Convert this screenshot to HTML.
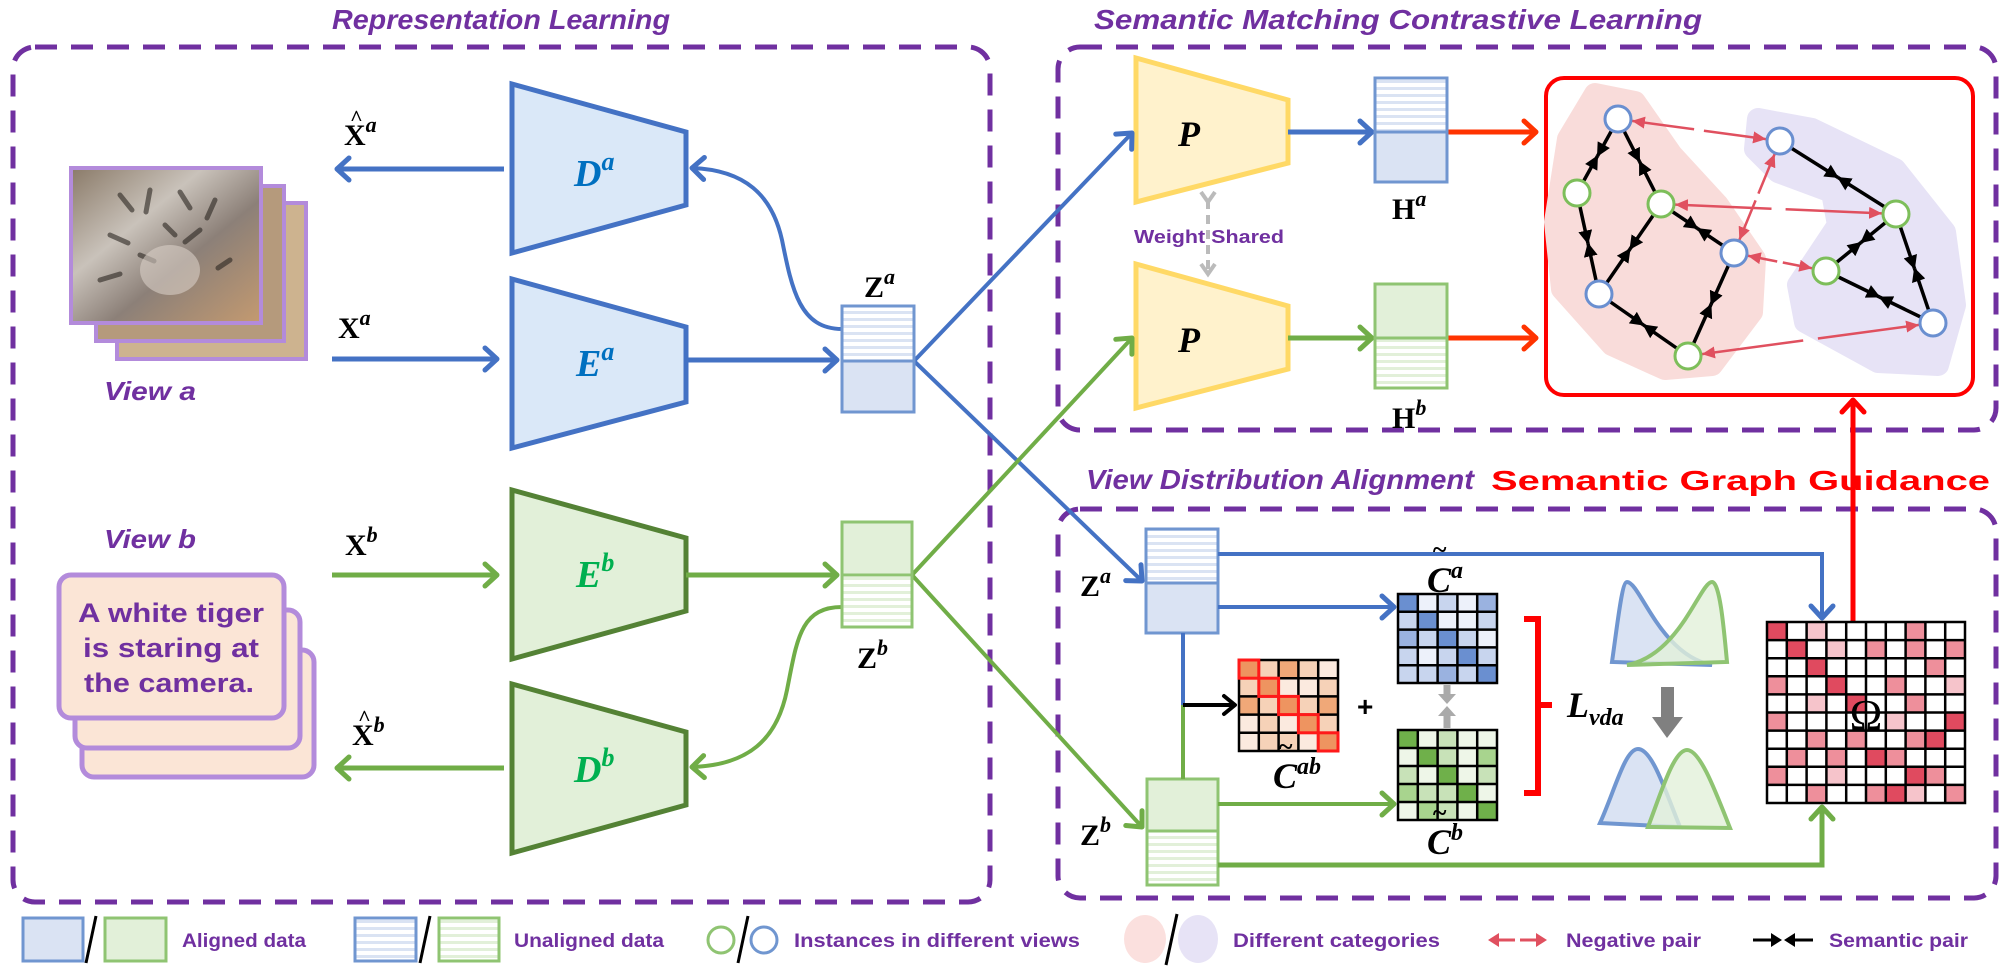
<!DOCTYPE html>
<html><head><meta charset="utf-8"><style>html,body{margin:0;padding:0;background:#fff}svg{display:block}</style></head>
<body>
<svg width="2000" height="969" viewBox="0 0 2000 969" xmlns="http://www.w3.org/2000/svg">
<defs>
<pattern id="stB" width="10" height="7" patternUnits="userSpaceOnUse"><rect width="10" height="7" fill="#fff"/><rect y="3" width="10" height="3" fill="#dae3f3"/></pattern>
<pattern id="stG" width="10" height="7" patternUnits="userSpaceOnUse"><rect width="10" height="7" fill="#fff"/><rect y="3" width="10" height="3" fill="#e2f0d9"/></pattern>
<linearGradient id="tig" x1="0" y1="0" x2="1" y2="1"><stop offset="0" stop-color="#8a7a68"/><stop offset="0.35" stop-color="#c9c2ba"/><stop offset="0.6" stop-color="#8c8078"/><stop offset="1" stop-color="#c49a70"/></linearGradient>
<marker id="mB" markerUnits="userSpaceOnUse" markerWidth="24" markerHeight="28" refX="17" refY="14" orient="auto"><path d="M5,3 L17,14 L5,25" fill="none" stroke="#4472C4" stroke-width="5" stroke-linecap="round" stroke-linejoin="round"/></marker>
<marker id="mG" markerUnits="userSpaceOnUse" markerWidth="24" markerHeight="28" refX="17" refY="14" orient="auto"><path d="M5,3 L17,14 L5,25" fill="none" stroke="#70AD47" stroke-width="5" stroke-linecap="round" stroke-linejoin="round"/></marker>
<marker id="mR" markerUnits="userSpaceOnUse" markerWidth="24" markerHeight="28" refX="17" refY="14" orient="auto"><path d="M5,3 L17,14 L5,25" fill="none" stroke="#FF3300" stroke-width="5" stroke-linecap="round" stroke-linejoin="round"/></marker>
<marker id="mRR" markerUnits="userSpaceOnUse" markerWidth="24" markerHeight="28" refX="17" refY="14" orient="auto"><path d="M5,3 L17,14 L5,25" fill="none" stroke="#FF0000" stroke-width="5" stroke-linecap="round" stroke-linejoin="round"/></marker>
<marker id="mK" markerUnits="userSpaceOnUse" markerWidth="20" markerHeight="24" refX="15" refY="12" orient="auto"><path d="M4,3 L15,12 L4,21" fill="none" stroke="#000" stroke-width="4" stroke-linecap="round" stroke-linejoin="round"/></marker>
<marker id="mGr" markerUnits="userSpaceOnUse" markerWidth="20" markerHeight="20" refX="10" refY="10" orient="auto"><path d="M2,3 L12,10 L2,17" fill="none" stroke="#bbb" stroke-width="4"/></marker>
<marker id="tK" markerUnits="userSpaceOnUse" markerWidth="16" markerHeight="14" refX="13" refY="7" orient="auto"><path d="M0,0 L14,7 L0,14 z" fill="#000"/></marker>
<marker id="tR" markerUnits="userSpaceOnUse" markerWidth="30" markerHeight="14" refX="27" refY="6" orient="auto"><path d="M0,0 L13,6 L0,12 z" fill="#E0505F"/></marker>
</defs>

<g font-family="Liberation Sans, sans-serif" font-style="italic" font-weight="bold" fill="#7030A0" font-size="28">
<text x="332" y="29" textLength="338" lengthAdjust="spacingAndGlyphs">Representation Learning</text>
<text x="1094" y="29" textLength="608" lengthAdjust="spacingAndGlyphs">Semantic Matching Contrastive Learning</text>
<text x="1086" y="489" textLength="388" lengthAdjust="spacingAndGlyphs">View Distribution Alignment</text>
</g>
<text x="1491" y="490" font-family="Liberation Sans, sans-serif" font-weight="bold" fill="#FF0000" font-size="28" textLength="499" lengthAdjust="spacingAndGlyphs">Semantic Graph Guidance</text>

<g fill="none" stroke="#7030A0" stroke-width="5" stroke-dasharray="22 14">
<rect x="13" y="47" width="977" height="855" rx="22"/>
<rect x="1058" y="47" width="938" height="383" rx="22"/>
<rect x="1058" y="509" width="938" height="389" rx="22"/>
</g>

<g stroke="#B38BDB" stroke-width="4">
<rect x="117" y="203" width="189" height="156" fill="#cdb38f"/>
<rect x="96" y="186" width="188" height="155" fill="#b59a7c"/>
<rect x="71" y="168" width="190" height="155" fill="url(#tig)"/>
</g>
<g stroke="#2a2520" stroke-width="5" opacity="0.6" fill="none" stroke-linecap="round"><path d="M120,195 l12,15 M150,190 l-4,22 M180,192 l10,16 M110,235 l18,8 M200,230 l-15,12 M140,255 l14,6 M165,225 l10,10 M215,200 l-8,18 M100,280 l20,-6 M230,260 l-12,8"/></g>
<ellipse cx="170" cy="270" rx="30" ry="25" fill="#d8cfc6" opacity="0.6"/>
<text x="104" y="400" font-family="Liberation Sans, sans-serif" font-weight="bold" font-style="italic" fill="#7030A0" font-size="26" textLength="92" lengthAdjust="spacingAndGlyphs">View a</text>

<g stroke="#B38BDB" stroke-width="5" fill="#FBE5D6">
<rect x="82" y="650" width="232" height="127" rx="12"/>
<rect x="75" y="610" width="225" height="138" rx="12"/>
<rect x="59" y="575" width="225" height="143" rx="12"/>
</g>
<g font-family="Liberation Sans, sans-serif" font-weight="bold" fill="#7030A0" font-size="27" text-anchor="middle">
<text x="171" y="622" textLength="186" lengthAdjust="spacingAndGlyphs">A white tiger</text>
<text x="171" y="657" textLength="176" lengthAdjust="spacingAndGlyphs">is staring at</text>
<text x="169" y="692" textLength="170" lengthAdjust="spacingAndGlyphs">the camera.</text>
</g>
<text x="104" y="548" font-family="Liberation Sans, sans-serif" font-weight="bold" font-style="italic" fill="#7030A0" font-size="26" textLength="92" lengthAdjust="spacingAndGlyphs">View b</text>

<g stroke-width="5" stroke-linejoin="miter">
<polygon points="512,84 686,132 686,205 512,253" fill="#DAE8F8" stroke="#4472C4"/>
<polygon points="512,279 686,327 686,402 512,448" fill="#DAE8F8" stroke="#4472C4"/>
<polygon points="512,490 686,538 686,611 512,659" fill="#E2F0D9" stroke="#548235"/>
<polygon points="512,684 686,732 686,805 512,853" fill="#E2F0D9" stroke="#548235"/>
<polygon points="1136,58 1288,100 1288,163 1136,202" fill="#FFF2CC" stroke="#FFD966"/>
<polygon points="1136,264 1288,306 1288,369 1136,408" fill="#FFF2CC" stroke="#FFD966"/>
</g>
<g font-family="Liberation Serif, serif" font-style="italic" font-weight="bold" font-size="38">
<text x="574" y="186" fill="#0070C0">D<tspan font-size="26" dy="-16">a</tspan></text>
<text x="576" y="376" fill="#0070C0">E<tspan font-size="26" dy="-16">a</tspan></text>
<text x="576" y="587" fill="#00B050">E<tspan font-size="26" dy="-16">b</tspan></text>
<text x="574" y="782" fill="#00B050">D<tspan font-size="26" dy="-16">b</tspan></text>
<text x="1178" y="146" fill="#000" font-size="36">P</text>
<text x="1178" y="352" fill="#000" font-size="36">P</text>
</g>

<g font-family="Liberation Serif, serif" font-weight="bold" font-size="30" fill="#000">
<text x="344" y="145">X<tspan font-size="22" font-style="italic" dy="-13">a</tspan></text>
<text x="350" y="125" font-size="22">^</text>
<text x="338" y="338">X<tspan font-size="22" font-style="italic" dy="-13">a</tspan></text>
<text x="345" y="555">X<tspan font-size="22" font-style="italic" dy="-13">b</tspan></text>
<text x="352" y="745">X<tspan font-size="22" font-style="italic" dy="-13">b</tspan></text>
<text x="358" y="725" font-size="22">^</text>
<text x="864" y="297">Z<tspan font-size="22" font-style="italic" dy="-13">a</tspan></text>
<text x="857" y="668">Z<tspan font-size="22" font-style="italic" dy="-13">b</tspan></text>
<text x="1392" y="219">H<tspan font-size="22" font-style="italic" dy="-13">a</tspan></text>
<text x="1392" y="428">H<tspan font-size="22" font-style="italic" dy="-13">b</tspan></text>
<text x="1080" y="596">Z<tspan font-size="22" font-style="italic" dy="-13">a</tspan></text>
<text x="1080" y="845">Z<tspan font-size="22" font-style="italic" dy="-13">b</tspan></text>
</g>

<g fill="none" stroke-width="5">
<line x1="504" y1="169" x2="337" y2="169" stroke="#4472C4" marker-end="url(#mB)"/>
<line x1="332" y1="359" x2="497" y2="359" stroke="#4472C4" marker-end="url(#mB)"/>
<line x1="686" y1="360" x2="837" y2="360" stroke="#4472C4" marker-end="url(#mB)"/>
<path d="M842,329 C800,329 792,290 782,240 C772,195 745,170 692,168" stroke="#4472C4" stroke-width="4" marker-end="url(#mB)"/>
<line x1="332" y1="575" x2="497" y2="575" stroke="#70AD47" marker-end="url(#mG)"/>
<line x1="686" y1="575" x2="837" y2="575" stroke="#70AD47" marker-end="url(#mG)"/>
<line x1="504" y1="768" x2="337" y2="768" stroke="#70AD47" marker-end="url(#mG)"/>
<path d="M842,607 C800,607 797,640 787,690 C777,740 748,765 692,767" stroke="#70AD47" stroke-width="4" marker-end="url(#mG)"/>
<line x1="914" y1="361" x2="1132" y2="133" stroke="#4472C4" stroke-width="4" marker-end="url(#mB)"/>
<line x1="914" y1="361" x2="1142" y2="581" stroke="#4472C4" stroke-width="4" marker-end="url(#mB)"/>
<line x1="912" y1="575" x2="1132" y2="338" stroke="#70AD47" stroke-width="4" marker-end="url(#mG)"/>
<line x1="912" y1="575" x2="1142" y2="827" stroke="#70AD47" stroke-width="4" marker-end="url(#mG)"/>
<line x1="1288" y1="132" x2="1372" y2="132" stroke="#4472C4" marker-end="url(#mB)"/>
<line x1="1288" y1="338" x2="1372" y2="338" stroke="#70AD47" marker-end="url(#mG)"/>
<line x1="1447" y1="132" x2="1536" y2="132" stroke="#FF3300" marker-end="url(#mR)"/>
<line x1="1447" y1="338" x2="1536" y2="338" stroke="#FF3300" marker-end="url(#mR)"/>
<line x1="1208" y1="200" x2="1208" y2="272" stroke="#bbb" stroke-width="4" stroke-dasharray="9 6" marker-end="url(#mGr)" marker-start="url(#mGr)"/>
</g>
<text x="1134" y="243" font-family="Liberation Sans, sans-serif" font-weight="bold" fill="#7030A0" font-size="18" textLength="150" lengthAdjust="spacingAndGlyphs">Weight Shared</text>

<g stroke-width="3">
<rect x="842" y="306" width="72" height="55" fill="url(#stB)" stroke="#7096D0"/>
<rect x="842" y="361" width="72" height="51" fill="#DAE3F3" stroke="#7096D0"/>
<rect x="842" y="522" width="70" height="53" fill="#E2F0D9" stroke="#8FC472"/>
<rect x="842" y="575" width="70" height="52" fill="url(#stG)" stroke="#8FC472"/>
<rect x="1375" y="78" width="72" height="54" fill="url(#stB)" stroke="#7096D0"/>
<rect x="1375" y="132" width="72" height="50" fill="#DAE3F3" stroke="#7096D0"/>
<rect x="1375" y="284" width="72" height="54" fill="#E2F0D9" stroke="#8FC472"/>
<rect x="1375" y="338" width="72" height="50" fill="url(#stG)" stroke="#8FC472"/>
<rect x="1146" y="529" width="72" height="54" fill="url(#stB)" stroke="#7096D0"/>
<rect x="1146" y="583" width="72" height="50" fill="#DAE3F3" stroke="#7096D0"/>
<rect x="1147" y="779" width="71" height="52" fill="#E2F0D9" stroke="#8FC472"/>
<rect x="1147" y="831" width="71" height="54" fill="url(#stG)" stroke="#8FC472"/>
</g>

<g fill="none" stroke-width="4">
<polyline points="1218,554 1822,554 1822,618" stroke="#4472C4" marker-end="url(#mB)"/>
<line x1="1218" y1="607" x2="1394" y2="607" stroke="#4472C4" marker-end="url(#mB)"/>
<line x1="1183" y1="633" x2="1183" y2="705" stroke="#4472C4"/>
<line x1="1183" y1="705" x2="1183" y2="779" stroke="#70AD47"/>
<line x1="1183" y1="705" x2="1235" y2="705" stroke="#000" marker-end="url(#mK)"/>
<line x1="1218" y1="804" x2="1394" y2="804" stroke="#70AD47" marker-end="url(#mG)"/>
<polyline points="1218,865 1822,865 1822,807" stroke="#70AD47" stroke-width="5" marker-end="url(#mG)"/>
<line x1="1853" y1="622" x2="1853" y2="400" stroke="#FF0000" stroke-width="5" marker-end="url(#mRR)"/>
<path d="M1524,619 L1538,619 L1538,793 L1524,793 M1538,705 L1552,705" stroke="#FF0000" stroke-width="6"/>
</g>
<text x="1357" y="716" font-family="Liberation Sans, sans-serif" font-weight="bold" font-size="28">+</text>
<g stroke="#aaa" stroke-width="7"><line x1="1447" y1="685" x2="1447" y2="697"/><line x1="1447" y1="712" x2="1447" y2="728"/></g>
<path d="M1438,694 L1456,694 L1447,704 z M1438,716 L1456,716 L1447,706 z" fill="#aaa"/>

<g>
<rect x="1398" y="594" width="99" height="89" fill="#c8d5ee"/>
<g fill="#6a8fd0"><rect x="1398" y="594" width="19.8" height="17.8"/><rect x="1417.8" y="611.8" width="19.8" height="17.8"/><rect x="1437.6" y="629.6" width="19.8" height="17.8"/><rect x="1457.4" y="647.4" width="19.8" height="17.8"/><rect x="1477.2" y="665.2" width="19.8" height="17.8"/></g>
<g fill="#edf1fa"><rect x="1417.8" y="594" width="19.8" height="17.8"/><rect x="1457.4" y="594" width="19.8" height="17.8"/><rect x="1457.4" y="611.8" width="19.8" height="17.8"/><rect x="1477.2" y="629.6" width="19.8" height="17.8"/><rect x="1417.8" y="647.4" width="19.8" height="17.8"/><rect x="1437.6" y="611.8" width="19.8" height="17.8"/></g>
<g fill="#9ab2e0"><rect x="1477.2" y="594" width="19.8" height="17.8"/><rect x="1398" y="629.6" width="19.8" height="17.8"/><rect x="1437.6" y="665.2" width="19.8" height="17.8"/></g>
<path d="M1398,594h99v89h-99z M1417.8,594v89 M1437.6,594v89 M1457.4,594v89 M1477.2,594v89 M1398,611.8h99 M1398,629.6h99 M1398,647.4h99 M1398,665.2h99" fill="none" stroke="#000" stroke-width="2.5"/>
</g>
<g>
<rect x="1398" y="730" width="99" height="90" fill="#c8e2b8"/>
<g fill="#6fb04a"><rect x="1398" y="730" width="19.8" height="18"/><rect x="1417.8" y="748" width="19.8" height="18"/><rect x="1437.6" y="766" width="19.8" height="18"/><rect x="1457.4" y="784" width="19.8" height="18"/><rect x="1477.2" y="802" width="19.8" height="18"/></g>
<g fill="#eef6e8"><rect x="1417.8" y="730" width="19.8" height="18"/><rect x="1457.4" y="730" width="19.8" height="18"/><rect x="1477.2" y="730" width="19.8" height="18"/><rect x="1398" y="748" width="19.8" height="18"/><rect x="1457.4" y="748" width="19.8" height="18"/><rect x="1417.8" y="766" width="19.8" height="18"/><rect x="1457.4" y="766" width="19.8" height="18"/><rect x="1477.2" y="784" width="19.8" height="18"/><rect x="1457.4" y="802" width="19.8" height="18"/><rect x="1398" y="802" width="19.8" height="18"/></g>
<g fill="#a8d48e"><rect x="1477.2" y="748" width="19.8" height="18"/><rect x="1398" y="784" width="19.8" height="18"/><rect x="1417.8" y="802" width="19.8" height="18"/></g>
<path d="M1398,730h99v90h-99z M1417.8,730v90 M1437.6,730v90 M1457.4,730v90 M1477.2,730v90 M1398,748h99 M1398,766h99 M1398,784h99 M1398,802h99" fill="none" stroke="#000" stroke-width="2.5"/>
</g>
<g>
<rect x="1239" y="660" width="99" height="91" fill="#f6d2b8"/>
<g fill="#fbeadf"><rect x="1317.2" y="660" width="19.8" height="18.2"/><rect x="1278.6" y="678.2" width="19.8" height="18.2"/><rect x="1298.4" y="678.2" width="19.8" height="18.2"/><rect x="1239" y="714.6" width="19.8" height="18.2"/><rect x="1278.6" y="714.6" width="19.8" height="18.2"/><rect x="1298.4" y="732.8" width="19.8" height="18.2"/><rect x="1239" y="732.8" width="19.8" height="18.2"/></g>
<g fill="#f0a878"><rect x="1278.6" y="660" width="19.8" height="18.2"/><rect x="1239" y="696.4" width="19.8" height="18.2"/><rect x="1317.2" y="696.4" width="19.8" height="18.2"/></g>
<path d="M1239,660h99v91h-99z M1258.8,660v91 M1278.6,660v91 M1298.4,660v91 M1318.2,660v91 M1239,678.2h99 M1239,696.4h99 M1239,714.6h99 M1239,732.8h99" fill="none" stroke="#000" stroke-width="2.5"/>
<g fill="#ee9460" stroke="#ff1a1a" stroke-width="3"><rect x="1239" y="660" width="19.8" height="18.2"/><rect x="1258.8" y="678.2" width="19.8" height="18.2"/><rect x="1278.6" y="696.4" width="19.8" height="18.2"/><rect x="1298.4" y="714.6" width="19.8" height="18.2"/><rect x="1318.2" y="732.8" width="19.8" height="18.2"/></g>
</g>
<g font-family="Liberation Serif, serif" font-style="italic" font-weight="bold" font-size="36" fill="#000">
<text x="1427" y="592">C<tspan font-size="24" dy="-14">a</tspan></text><text x="1432" y="558" font-size="26">~</text>
<text x="1273" y="788">C<tspan font-size="24" dy="-14">ab</tspan></text><text x="1278" y="755" font-size="26">~</text>
<text x="1427" y="854">C<tspan font-size="24" dy="-14">b</tspan></text><text x="1432" y="821" font-size="26">~</text>
<text x="1567" y="717">L<tspan font-size="24" dy="8">vda</tspan></text>
<text x="1862" y="120">L<tspan font-size="26" dy="8">smc</tspan></text>
</g>

<g stroke-width="4">
<path d="M1612,662 C1618,620 1622,582 1627,582 C1640,582 1660,655 1712,665 Z" fill="#DAE3F3" stroke="#7096D0"/>
<path d="M1627,665 C1680,655 1700,582 1712,582 C1720,582 1724,630 1727,662 Z" fill="#E2F0D9" fill-opacity="0.8" stroke="#8FC472"/>
<path d="M1600,823 C1615,790 1625,749 1638,749 C1652,749 1665,790 1680,827 Z" fill="#DAE3F3" stroke="#7096D0"/>
<path d="M1648,827 C1662,790 1674,750 1687,750 C1700,750 1715,790 1730,828 Z" fill="#E2F0D9" fill-opacity="0.8" stroke="#8FC472"/>
</g>
<rect x="1661" y="687" width="13" height="32" fill="#808080"/><path d="M1652,717 L1683,717 L1667,738 z" fill="#808080"/>

<g>
<rect x="1767" y="622" width="198" height="181" fill="#fff"/>
<g fill="#e04a5f">
<rect x="1767" y="622" width="19.8" height="18.1"/><rect x="1786.8" y="640.1" width="19.8" height="18.1"/><rect x="1806.6" y="658.2" width="19.8" height="18.1"/><rect x="1826.4" y="676.3" width="19.8" height="18.1"/><rect x="1846.2" y="694.4" width="19.8" height="18.1"/><rect x="1945.2" y="712.5" width="19.8" height="18.1"/><rect x="1925.4" y="730.6" width="19.8" height="18.1"/><rect x="1866" y="748.7" width="19.8" height="18.1"/><rect x="1905.6" y="766.8" width="19.8" height="18.1"/><rect x="1885.8" y="784.9" width="19.8" height="18.1"/>
</g>
<g fill="#ee8f9b">
<rect x="1905.6" y="622" width="19.8" height="18.1"/><rect x="1866" y="640.1" width="19.8" height="18.1"/><rect x="1905.6" y="640.1" width="19.8" height="18.1"/><rect x="1945.2" y="640.1" width="19.8" height="18.1"/><rect x="1925.4" y="658.2" width="19.8" height="18.1"/><rect x="1767" y="676.3" width="19.8" height="18.1"/><rect x="1885.8" y="676.3" width="19.8" height="18.1"/><rect x="1905.6" y="694.4" width="19.8" height="18.1"/><rect x="1767" y="712.5" width="19.8" height="18.1"/><rect x="1806.6" y="730.6" width="19.8" height="18.1"/><rect x="1846.2" y="730.6" width="19.8" height="18.1"/><rect x="1905.6" y="730.6" width="19.8" height="18.1"/><rect x="1786.8" y="748.7" width="19.8" height="18.1"/><rect x="1826.4" y="748.7" width="19.8" height="18.1"/><rect x="1885.8" y="748.7" width="19.8" height="18.1"/><rect x="1767" y="766.8" width="19.8" height="18.1"/><rect x="1925.4" y="766.8" width="19.8" height="18.1"/><rect x="1806.6" y="784.9" width="19.8" height="18.1"/><rect x="1866" y="784.9" width="19.8" height="18.1"/><rect x="1945.2" y="784.9" width="19.8" height="18.1"/>
</g>
<g fill="#f6c4cb">
<rect x="1806.6" y="622" width="19.8" height="18.1"/><rect x="1826.4" y="640.1" width="19.8" height="18.1"/><rect x="1945.2" y="676.3" width="19.8" height="18.1"/><rect x="1806.6" y="694.4" width="19.8" height="18.1"/><rect x="1885.8" y="712.5" width="19.8" height="18.1"/><rect x="1826.4" y="766.8" width="19.8" height="18.1"/><rect x="1905.6" y="784.9" width="19.8" height="18.1"/>
</g>
<path d="M1767,622h198v181h-198z M1786.8,622v181 M1806.6,622v181 M1826.4,622v181 M1846.2,622v181 M1866,622v181 M1885.8,622v181 M1905.6,622v181 M1925.4,622v181 M1945.2,622v181 M1767,640.1h198 M1767,658.2h198 M1767,676.3h198 M1767,694.4h198 M1767,712.5h198 M1767,730.6h198 M1767,748.7h198 M1767,766.8h198 M1767,784.9h198" fill="none" stroke="#000" stroke-width="2.5"/>
<text x="1866" y="730" font-family="Liberation Serif, serif" font-size="44" text-anchor="middle">Ω</text>
</g>

<rect x="1546" y="78" width="427" height="317" rx="18" fill="#fff" stroke="#FF0000" stroke-width="4"/>
<polygon points="1595,94 1635,102 1672,155 1718,205 1755,259 1752,312 1712,365 1665,369 1612,345 1562,289 1555,222 1568,139" fill="#F9DCDA" stroke="#F9DCDA" stroke-width="22" stroke-linejoin="round"/>
<polygon points="1758,119 1812,129 1895,169 1945,232 1955,305 1938,365 1878,362 1805,322 1798,285 1838,225 1832,192 1778,172 1755,149" fill="#E7E3F6" stroke="#E7E3F6" stroke-width="22" stroke-linejoin="round"/>
<g stroke="#000" stroke-width="3.5" marker-end="url(#tK)">
<line x1="1618" y1="119" x2="1597.5" y2="156"/><line x1="1577" y1="193" x2="1597.5" y2="156"/>
<line x1="1618" y1="119" x2="1639.5" y2="161.5"/><line x1="1661" y1="204" x2="1639.5" y2="161.5"/>
<line x1="1577" y1="193" x2="1588" y2="243.5"/><line x1="1599" y1="294" x2="1588" y2="243.5"/>
<line x1="1661" y1="204" x2="1630" y2="249"/><line x1="1599" y1="294" x2="1630" y2="249"/>
<line x1="1661" y1="204" x2="1697.5" y2="228.5"/><line x1="1734" y1="253" x2="1697.5" y2="228.5"/>
<line x1="1599" y1="294" x2="1643.5" y2="325"/><line x1="1688" y1="356" x2="1643.5" y2="325"/>
<line x1="1734" y1="253" x2="1711" y2="304.5"/><line x1="1688" y1="356" x2="1711" y2="304.5"/>
<line x1="1780" y1="141" x2="1838" y2="177.5"/><line x1="1896" y1="214" x2="1838" y2="177.5"/>
<line x1="1896" y1="214" x2="1861" y2="242.5"/><line x1="1826" y1="271" x2="1861" y2="242.5"/>
<line x1="1896" y1="214" x2="1914.5" y2="268.5"/><line x1="1933" y1="323" x2="1914.5" y2="268.5"/>
<line x1="1826" y1="271" x2="1879.5" y2="297"/><line x1="1933" y1="323" x2="1879.5" y2="297"/>
</g>
<g stroke="#E0505F" stroke-width="2.5" marker-end="url(#tR)">
<line x1="1694.1" y1="129.3" x2="1618" y2="119"/><line x1="1703.9" y1="130.7" x2="1780" y2="141"/>
<line x1="1771.5" y1="208.7" x2="1661" y2="204"/><line x1="1785.6" y1="209.3" x2="1896" y2="214"/>
<line x1="1755.6" y1="200.4" x2="1734" y2="253"/><line x1="1758.4" y1="193.6" x2="1780" y2="141"/>
<line x1="1777.2" y1="261.5" x2="1734" y2="253"/><line x1="1782.8" y1="262.5" x2="1826" y2="271"/>
<line x1="1803.2" y1="340.5" x2="1688" y2="356"/><line x1="1817.9" y1="338.5" x2="1933" y2="323"/>
</g>
<g fill="#fff" stroke-width="3">
<circle cx="1618" cy="119" r="13" stroke="#6A8FD0"/><circle cx="1734" cy="253" r="13" stroke="#6A8FD0"/><circle cx="1599" cy="294" r="13" stroke="#6A8FD0"/><circle cx="1780" cy="141" r="13" stroke="#6A8FD0"/><circle cx="1933" cy="323" r="13" stroke="#6A8FD0"/>
<circle cx="1577" cy="193" r="13" stroke="#7DBE5A"/><circle cx="1661" cy="204" r="13" stroke="#7DBE5A"/><circle cx="1688" cy="356" r="13" stroke="#7DBE5A"/><circle cx="1896" cy="214" r="13" stroke="#7DBE5A"/><circle cx="1826" cy="271" r="13" stroke="#7DBE5A"/>
</g>

<g stroke-width="3">
<rect x="23" y="918" width="60" height="43" fill="#DAE3F3" stroke="#7096D0"/>
<rect x="105" y="918" width="61" height="43" fill="#E2F0D9" stroke="#8FC472"/>
<rect x="355" y="918" width="61" height="43" fill="url(#stB)" stroke="#7096D0"/>
<rect x="439" y="918" width="60" height="43" fill="url(#stG)" stroke="#8FC472"/>
<circle cx="721" cy="940" r="13" fill="#fff" stroke="#8FC472"/>
<circle cx="764" cy="940" r="13" fill="#fff" stroke="#7096D0"/>
</g>
<ellipse cx="1145" cy="939" rx="21" ry="24" fill="#FBE0DE"/>
<ellipse cx="1198" cy="939" rx="20" ry="24" fill="#E7E3F6"/>
<g stroke="#000" stroke-width="3">
<line x1="96" y1="916" x2="86" y2="963"/><line x1="430" y1="916" x2="420" y2="963"/><line x1="748" y1="916" x2="738" y2="963"/><line x1="1177" y1="914" x2="1166" y2="965"/>
</g>
<g stroke="#E0505F" stroke-width="3"><line x1="1494" y1="940" x2="1515" y2="940"/><line x1="1520" y1="940" x2="1541" y2="940"/></g>
<path d="M1488,940 L1499,933 L1499,947 z M1547,940 L1536,933 L1536,947 z" fill="#E0505F"/>
<g stroke="#000" stroke-width="3"><line x1="1753" y1="940" x2="1775" y2="940"/><line x1="1791" y1="940" x2="1813" y2="940"/></g>
<path d="M1782,940 L1771,933 L1771,947 z M1784,940 L1795,933 L1795,947 z" fill="#000"/>
<g font-family="Liberation Sans, sans-serif" font-weight="bold" fill="#7030A0" font-size="19">
<text x="182" y="947" textLength="124" lengthAdjust="spacingAndGlyphs">Aligned data</text>
<text x="514" y="947" textLength="150" lengthAdjust="spacingAndGlyphs">Unaligned data</text>
<text x="794" y="947" textLength="286" lengthAdjust="spacingAndGlyphs">Instances in different views</text>
<text x="1233" y="947" textLength="207" lengthAdjust="spacingAndGlyphs">Different categories</text>
<text x="1566" y="947" textLength="135" lengthAdjust="spacingAndGlyphs">Negative pair</text>
<text x="1829" y="947" textLength="139" lengthAdjust="spacingAndGlyphs">Semantic pair</text>
</g>
</svg>
</body></html>
